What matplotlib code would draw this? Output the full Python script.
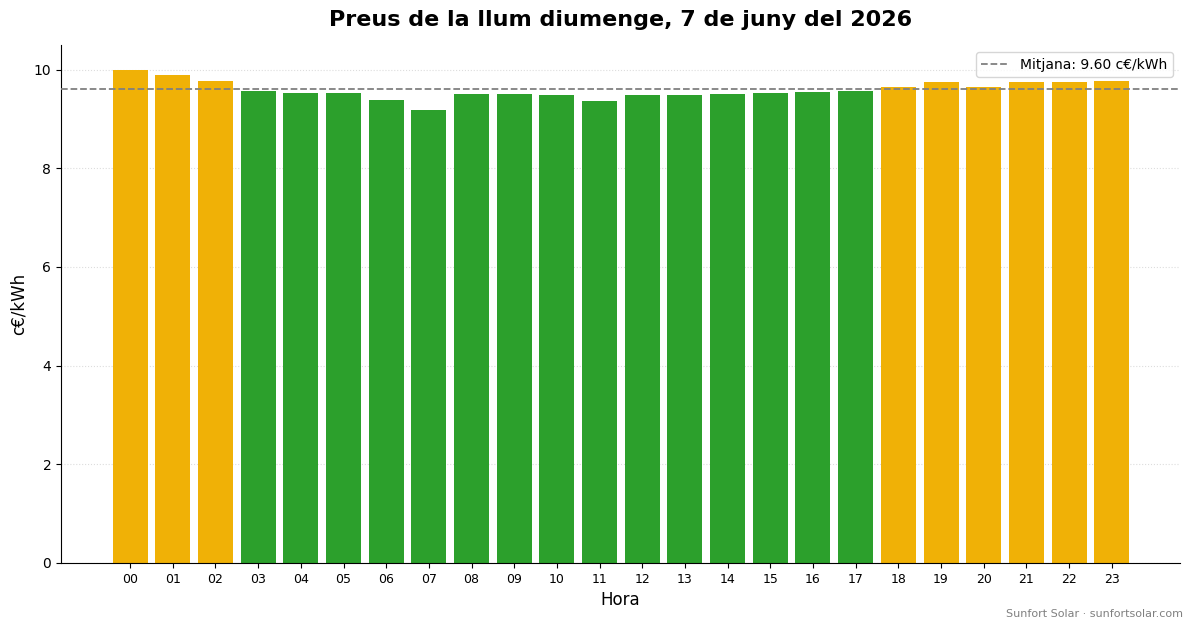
import matplotlib
matplotlib.use("Agg")
import matplotlib.pyplot as plt

hours = [f"{h:02d}" for h in range(24)]
prices = [10.00, 9.90, 9.78, 9.57, 9.53, 9.53, 9.39, 9.19, 9.51, 9.51, 9.49, 9.37,
          9.49, 9.49, 9.51, 9.53, 9.55, 9.57, 9.65, 9.74, 9.65, 9.74, 9.74, 9.78]
mean_price = 9.60

colors = ["#f0b106" if p > mean_price else "#2ca02c" for p in prices]

fig = plt.figure(figsize=(11.93, 6.28), dpi=100)
ax = fig.add_axes([61/1193, 1-563/628, (1180-61)/1193, (563-45)/628])
x = list(range(24))
ax.bar(x, prices, width=0.82, color=colors, zorder=2)
ax.axhline(mean_price, color="gray", linestyle="--", linewidth=1.3,
           label=f"Mitjana: {mean_price:.2f} c€/kWh", zorder=3)
ax.set_xticks(x)
ax.set_xticklabels(hours, fontsize=9)
ax.set_xlim(-1.62, 24.6)
ax.set_ylim(0, 10.5)
ax.yaxis.grid(True, linestyle=":", color="#dddddd", zorder=0)
ax.spines["top"].set_visible(False)
ax.spines["right"].set_visible(False)
ax.set_xlabel("Hora", fontsize=12)
ax.set_ylabel("c€/kWh", fontsize=12)
ax.set_title("Preus de la llum diumenge, 7 de juny del 2026", fontsize=16,
             fontweight="bold", pad=14)
ax.legend(loc="upper right", fontsize=10)
fig.text(0.992, 0.015, "Sunfort Solar · sunfortsolar.com", ha="right", va="bottom",
         fontsize=8, color="gray")
fig.savefig("out.png", dpi=100)
